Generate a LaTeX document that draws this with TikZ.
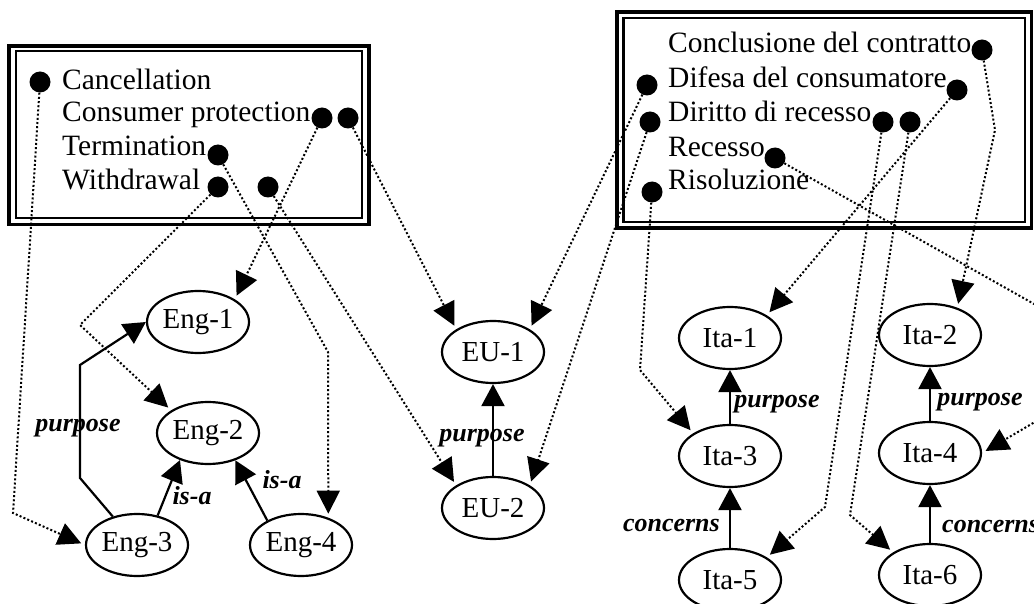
\documentclass[tikz,border=0pt]{standalone}
\usepackage{fontspec}
\setmainfont{Liberation Serif}
\usetikzlibrary{shapes.geometric,arrows.meta}

\begin{document}
\begin{tikzpicture}[x=1pt,y=-1pt,
    concept/.style={draw,ellipse,line width=2.2pt,inner sep=0pt,minimum width=102pt,minimum height=62pt,font=\fontsize{29}{33}\selectfont},
    term/.style={anchor=base west,inner sep=0pt,font=\fontsize{29.5}{34}\selectfont},
    dot/.style={circle,fill,inner sep=0pt,minimum size=21pt},
    link/.style={line width=2.2pt,-{Triangle[length=22pt,width=23pt]}},
    ref/.style={line width=2pt,dash pattern=on 2pt off 2.2pt,shorten >=4pt,-{Triangle[length=23pt,width=23pt]}},
    rel/.style={inner sep=0pt,font=\fontsize{26}{30}\selectfont\bfseries\itshape}]
\useasboundingbox (0,0) rectangle (1034,604);
\clip (0,0) rectangle (1034,604);

% english box
\draw[line width=3.8pt] (9,46) rectangle (369,224.5);
\draw[line width=2.2pt] (16,51) rectangle (362,218);
\node[term] (tcancel) at (62,90) {Cancellation};
\node[term] (tcons) at (62,122) {Consumer protection};
\node[term] (tterm) at (62,156) {Termination};
\node[term] (twith) at (62,190) {Withdrawal};
\node[dot] (cancel) at (40,82) {};
\node[dot] (consA) at (322,118) {};
\node[dot] (consB) at (348,118) {};
\node[dot] (term) at (218,155) {};
\node[dot] (withA) at (218,187) {};
\node[dot] (withB) at (268,187) {};

% italian box
\draw[line width=3.8pt] (617,11.7) rectangle (1031.5,228);
\draw[line width=2.2pt] (623.5,18) rectangle (1025,222);
\node[term] (tconc) at (668,53) {Conclusione del contratto};
\node[term] (tdif) at (668,88) {Difesa del consumatore};
\node[term] (tdir) at (668,122) {Diritto di recesso};
\node[term] (trec) at (668,157) {Recesso};
\node[term] (tris) at (668,190) {Risoluzione};
\node[dot] (conc) at (982,50) {};
\node[dot] (difA) at (647,85) {};
\node[dot] (difB) at (957,90) {};
\node[dot] (dirA) at (650,122) {};
\node[dot] (dirB) at (883,122) {};
\node[dot] (dirC) at (910,122) {};
\node[dot] (rec) at (775,158) {};
\node[dot] (ris) at (652,192) {};

% concepts
\node[concept] (eng1) at (198,322) {Eng-1};
\node[concept] (eng2) at (208,433) {Eng-2};
\node[concept] (eng3) at (137,545) {Eng-3};
\node[concept] (eng4) at (301,545) {Eng-4};
\node[concept] (eu1) at (493,352) {EU-1};
\node[concept] (eu2) at (493,508) {EU-2};
\node[concept] (ita1) at (730,338) {Ita-1};
\node[concept] (ita2) at (930,335) {Ita-2};
\node[concept] (ita3) at (730,456) {Ita-3};
\node[concept] (ita4) at (930,453) {Ita-4};
\node[concept] (ita5) at (730,580) {Ita-5};
\node[concept] (ita6) at (930,575) {Ita-6};

% relations
\draw[link] (eng3) -- (80,478) -- (80,365) -- (eng1.west);
\draw[link] (eng3.55) -- (eng2.224);
\draw[link] (eng4.144) -- (eng2.315);
\draw[link] (eu2) -- (eu1);
\draw[link] (ita3) -- (ita1);
\draw[link] (ita5) -- (ita3);
\draw[link] (ita4) -- (ita2);
\draw[link] (ita6) -- (ita4);
\node[rel] (lpurp1) at (78,428) {purpose};
\node[rel] (lisa1) at (192,496) {is-a};
\node[rel] (lisa2) at (282,480) {is-a};
\node[rel] (lpurp2) at (482,438) {purpose};
\node[rel] (lpurp3) at (777,404) {purpose};
\node[rel] (lpurp4) at (980,402) {purpose};
\node[rel,anchor=east] (lconc1) at (720,525) {concerns};
\node[rel,anchor=west] (lconc2) at (942,526) {concerns};

% lexicalisations
\draw[ref] (cancel) -- (13,513) -- (eng3.west);
\draw[ref] (consA) -- (eng1.north east);
\draw[ref] (consB) -- (eu1.north west);
\draw[ref] (term) -- (328,352) -- (eng4.45);
\draw[ref] (withA) -- (80,325) -- (eng2.north west);
\draw[ref] (withB) -- (eu2.north west);
\draw[ref] (conc) -- (995,130) -- (ita2.45);
\draw[ref] (difA) -- (eu1.north east);
\draw[ref] (difB) -- (ita1.north east);
\draw[ref] (dirA) -- (eu2.north east);
\draw[ref] (dirB) -- (825,507) -- (ita5.north east);
\draw[ref] (dirC) -- (850,515) -- (ita6.north west);
\draw[ref] (rec) -- (1137,362) -- (ita4.east);
\draw[ref] (ris) -- (640,370) -- (ita3.north west);
\end{tikzpicture}
\end{document}
